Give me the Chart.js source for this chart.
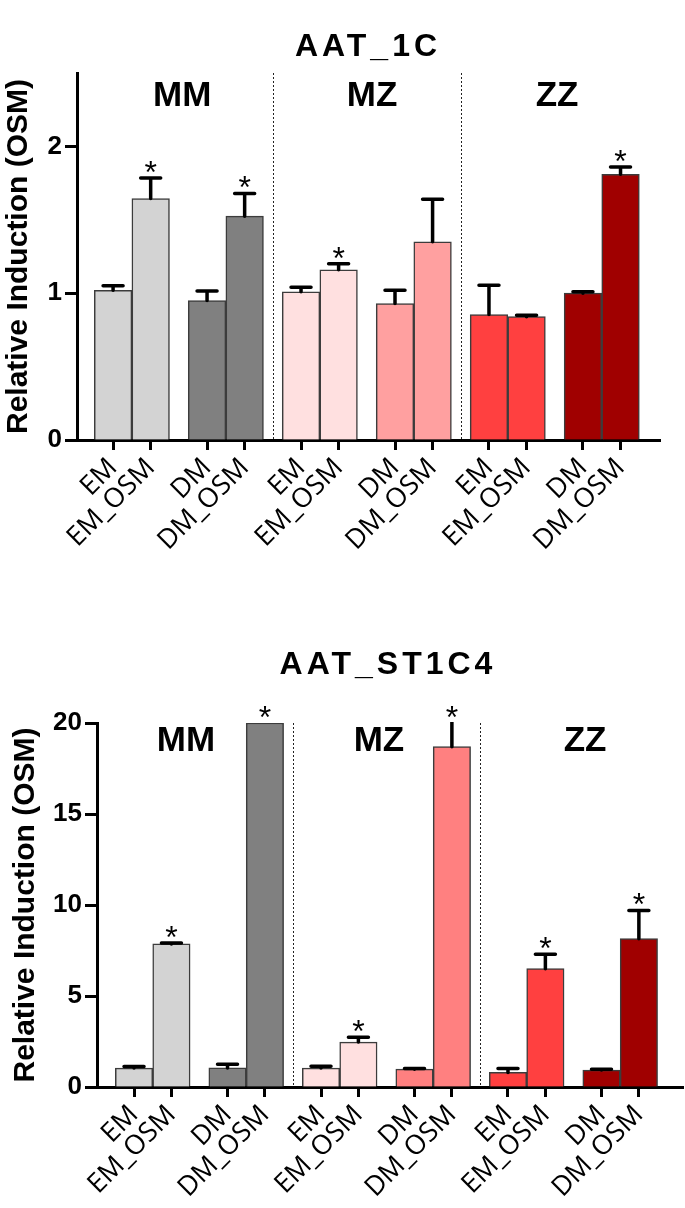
<!DOCTYPE html>
<html>
<head>
<meta charset="utf-8">
<script src="https://cdn.jsdelivr.net/npm/chart.js@4.4.1/dist/chart.umd.min.js"></script>
<style>
  html, body { margin: 0; padding: 0; background: #fff; }
  .box { position: relative; width: 685px; }
  #top { height: 610px; }
  #bottom { height: 598px; }
</style>
</head>
<body>
<div class="box" id="top"><canvas id="c1"></canvas></div>
<div class="box" id="bottom"><canvas id="c2"></canvas></div>
<script>
// categories
const labels = ['EM', 'EM_OSM', 'DM', 'DM_OSM', 'EM', 'EM_OSM', 'DM', 'DM_OSM', 'EM', 'EM_OSM', 'DM', 'DM_OSM'];
const groups = ['MM', 'MZ', 'ZZ'];

// AAT_1C
const topValues = [1.02, 1.645, 0.95, 1.525, 1.01, 1.16, 0.93, 1.35, 0.855, 0.84, 1.0, 1.81];
const topErrors = [0.03, 0.14, 0.065, 0.155, 0.03, 0.04, 0.09, 0.29, 0.2, 0.01, 0.01, 0.05];
const topStars = [0, 1, 0, 1, 0, 1, 0, 0, 0, 0, 0, 1];
const topTicks = [0, 1, 2];

// AAT_ST1C4
const bottomValues = [1.04, 7.86, 1.05, 20, 1.04, 2.47, 0.98, 18.7, 0.8, 6.5, 0.93, 8.15];
const bottomErrors = [0.08, 0.05, 0.2, 0, 0.1, 0.27, 0.03, 1.5, 0.22, 0.8, 0.04, 1.55];
const bottomStars = [0, 1, 0, 1, 0, 1, 0, 1, 0, 1, 0, 1];
const bottomTicks = [0, 5, 10, 15, 20];

const topColors = ['#d3d3d3', '#d3d3d3', '#808080', '#808080', '#ffe0e0', '#ffe0e0',
  '#ffa0a0', '#ffa0a0', '#ff4040', '#ff4040', '#a00000', '#a00000'];
const bottomColors = ['#d3d3d3', '#d3d3d3', '#808080', '#808080', '#ffe0e0', '#ffe0e0',
  '#ff8080', '#ff8080', '#ff4040', '#ff4040', '#a00000', '#a00000'];

// x slot of each bar: pairs touch, a gap of half a slot between pairs
const slot = i => Math.floor(i / 2) * 2.5 + (i % 2);
const dividers = [4.25, 9.25];

const boldFont = '"Liberation Sans", Arial, sans-serif';

// error bars, asterisks, dividers, group names and title
function decor(s) {
  return {
    id: 'decor',
    afterDatasetsDraw(chart) {
      const { ctx, chartArea: a, scales: { x, y } } = chart;
      ctx.save();
      ctx.strokeStyle = '#222';
      ctx.lineWidth = 1;
      ctx.setLineDash([2, 2]);
      dividers.forEach(v => {
        const px = Math.round(x.getPixelForValue(v)) + 0.5;
        ctx.beginPath();
        ctx.moveTo(px, a.top);
        ctx.lineTo(px, a.bottom);
        ctx.stroke();
      });
      ctx.setLineDash([]);

      ctx.save();
      ctx.beginPath();
      ctx.rect(a.left, a.top - 1, a.width, a.height);
      ctx.clip();
      ctx.strokeStyle = '#000';
      ctx.lineWidth = 3.5;
      ctx.lineCap = 'round';
      s.values.forEach((v, i) => {
        if (s.errors[i] <= 0) return;
        const px = x.getPixelForValue(slot(i));
        const y0 = y.getPixelForValue(v);
        const y1 = y.getPixelForValue(v + s.errors[i]);
        ctx.beginPath();
        ctx.moveTo(px, y0);
        ctx.lineTo(px, y1);
        ctx.moveTo(px - 10, y1);
        ctx.lineTo(px + 10, y1);
        ctx.stroke();
      });
      ctx.restore();

      ctx.fillStyle = '#000';
      ctx.textAlign = 'center';
      ctx.font = '32px ' + boldFont;
      ctx.textBaseline = 'alphabetic';
      s.values.forEach((v, i) => {
        if (!s.stars[i]) return;
        const px = x.getPixelForValue(slot(i));
        const top = Math.max(y.getPixelForValue(v + s.errors[i]), a.top);
        ctx.fillText('*', px, top + 5);
      });

      ctx.textBaseline = 'middle';
      ctx.font = 'bold 35px ' + boldFont;
      groups.forEach((g, k) => {
        ctx.fillText(g, x.getPixelForValue(s.groupX[k]), y.getPixelForValue(s.groupY));
      });

      ctx.font = 'bold 32px ' + boldFont;
      ctx.letterSpacing = '4px';
      ctx.fillText(s.title, s.titleX + 2, s.titleY);
      ctx.restore();
    }
  };
}

function makeChart(id, s) {
  const data = s.values.map((v, i) => ({ x: slot(i), y: v }));
  return new Chart(document.getElementById(id), {
    type: 'bar',
    data: {
      datasets: [{
        data,
        backgroundColor: s.colors,
        borderColor: '#3c3c3c',
        borderWidth: 1.5,
        barPercentage: 1,
        categoryPercentage: 1
      }]
    },
    options: {
      animation: false,
      responsive: true,
      maintainAspectRatio: false,
      layout: { padding: { top: s.padTop, right: s.padRight, left: 0, bottom: 0 } },
      plugins: { legend: { display: false }, tooltip: { enabled: false } },
      scales: {
        x: {
          type: 'linear',
          offset: false,
          min: s.xMin,
          max: s.xMax,
          afterBuildTicks: sc => { sc.ticks = labels.map((_, i) => ({ value: slot(i) })); },
          afterFit: sc => { sc.height = s.xHeight; },
          ticks: {
            autoSkip: false,
            minRotation: 45,
            maxRotation: 45,
            padding: 2,
            color: '#000',
            font: { family: '"Open Sans", sans-serif', size: 27 },
            callback: (v, i) => labels[i]
          },
          grid: { offset: false, drawOnChartArea: false, tickLength: 10, tickWidth: 3, tickColor: '#000' },
          border: { color: '#000', width: 3 }
        },
        y: {
          min: 0,
          max: s.yMax,
          afterBuildTicks: sc => { sc.ticks = s.yTicks.map(v => ({ value: v })); },
          afterFit: sc => { sc.width = s.yWidth; },
          ticks: {
            color: '#000',
            padding: 3,
            font: { family: boldFont, weight: 'bold', size: 26 }
          },
          grid: { drawOnChartArea: false, tickLength: 12, tickWidth: 3, tickColor: '#000' },
          border: { color: '#000', width: 3 },
          title: {
            display: true,
            text: 'Relative Induction (OSM)',
            color: '#000',
            font: { family: boldFont, weight: 'bold', size: 30 },
            padding: { top: s.yTitlePad, bottom: 0 }
          }
        }
      }
    },
    plugins: [decor(s)]
  });
}

makeChart('c1', {
  title: 'AAT_1C', titleX: 366, titleY: 47,
  values: topValues, errors: topErrors, stars: topStars, colors: topColors,
  yMax: 2.5, yTicks: topTicks,
  xMin: -0.96, xMax: 14.55,
  padTop: 73, padRight: 25, xHeight: 170, yWidth: 77, yTitlePad: 1,
  groupX: [1.84, 6.89, 11.81], groupY: 2.34
});

makeChart('c2', {
  title: 'AAT_ST1C4', titleX: 386, titleY: 55,
  values: bottomValues, errors: bottomErrors, stars: bottomStars, colors: bottomColors,
  yMax: 20, yTicks: bottomTicks,
  xMin: -0.99, xMax: 14.68,
  padTop: 113, padRight: 2, xHeight: 121, yWidth: 97, yTitlePad: 8,
  groupX: [1.39, 6.55, 12.06], groupY: 19
});
</script>
</body>
</html>
